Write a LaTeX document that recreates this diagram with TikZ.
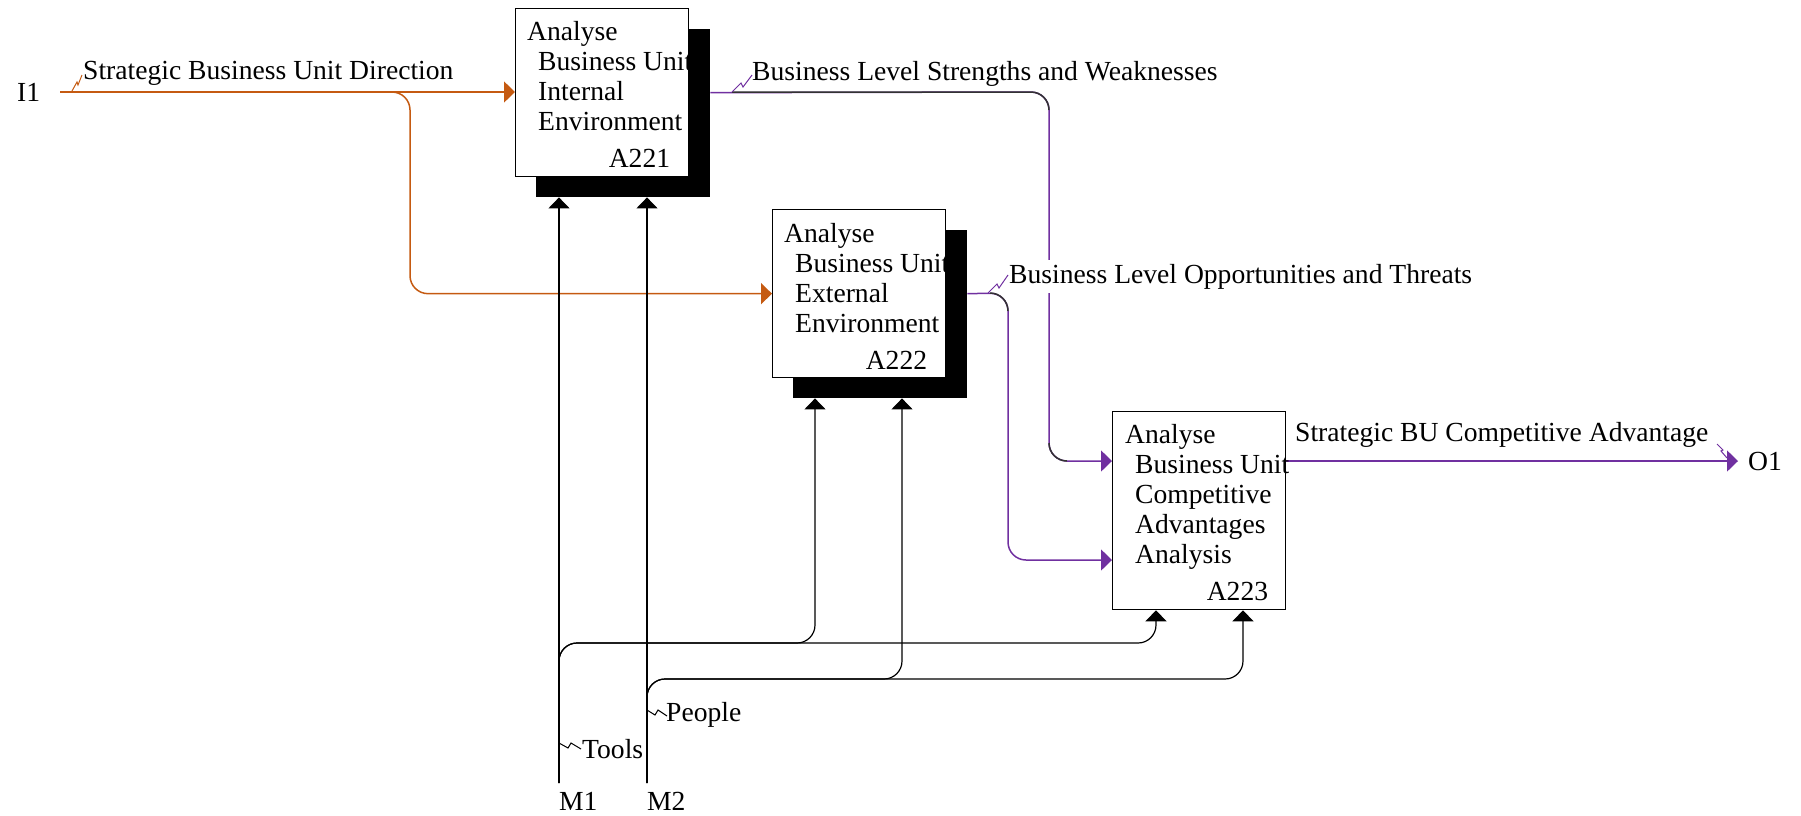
\documentclass[tikz,border=0pt]{standalone}
\usepackage{fontspec}
\setmainfont{Liberation Serif}
\usetikzlibrary{arrows.meta, positioning}
\definecolor{idefin}{HTML}{C55A11}
\definecolor{idefout}{HTML}{7030A0}

\begin{document}
\begin{tikzpicture}[x=1pt, y=-1pt,
  font=\fontsize{27.6}{30}\selectfont,
  box/.style={draw, fill=white, line width=1.3pt, anchor=north west, inner sep=0pt, minimum width=173pt, minimum height=168pt},
  shadowbox/.style={fill=black, anchor=north west, inner sep=0pt, minimum width=174pt, minimum height=168pt},
  boxtext/.style={anchor=north west, inner sep=0pt, align=left},
  boxnum/.style={anchor=base east, inner sep=0pt},
  lbl/.style={anchor=base west, inner sep=0pt},
  arr/.style={-{Triangle[length=11pt, width=21pt]}},
  inflow/.style={draw=idefin, line width=1.5pt, rounded corners=18pt},
  outflow/.style={draw=idefout, line width=1.5pt, rounded corners=18pt},
  mech/.style={draw=black, line width=1.2pt, rounded corners=18pt},
  joinline/.style={draw=black!80, line width=1.5pt, rounded corners=18pt},
  tag/.style={line width=1pt}]
\useasboundingbox (0,0) rectangle (1801,815);

% activity boxes
\node[shadowbox] (s221) at (536,29) {};
\node[box] (a221) at (515,8) {};
\node[shadowbox] (s222) at (793,230) {};
\node[box] (a222) at (772,209) {};
\node[box, minimum height=198pt] (a223) at (1112,411) {};

% ports
\coordinate (in223a) at ([shift={(0,50)}]a223.north west);
\coordinate (in223b) at ([shift={(0,149)}]a223.north west);
\coordinate (c222a) at ([xshift=43pt]a222.south west);
\coordinate (c222b) at ([xshift=130pt]a222.south west);
\coordinate (c223a) at ([xshift=44pt]a223.south west);
\coordinate (c223b) at ([xshift=131pt]a223.south west);

% input
\node[anchor=west, inner sep=0pt] (i1) at (17,92) {I1};
\coordinate[right=20pt of i1] (i1tail);
\coordinate (split1) at (410,92);
\draw[inflow, arr] (i1tail) -- (i1tail -| a221.west);
\draw[inflow, arr] (i1tail) -- (split1) |- (a222.west);

% outputs
\coordinate (drop1) at (1049,92);
\coordinate (drop2) at (1008,293);
\coordinate (o1tip) at (1738,461);
\draw[outflow, arr] (a221.east -| s221.east) -- (drop1) |- (in223a);
\draw[outflow, arr] (a222.east -| s222.east) -- (drop2) |- (in223b);
\draw[outflow, arr] (in223a -| a223.east) -- (o1tip);
\node[right=10pt of o1tip, inner sep=0pt] (o1) {O1};
\draw[joinline] (732,92) -| (1049,110);
\draw[joinline] (1049,443) |- (1067,461);
\draw[joinline] (990,293) -| (1008,311);

% mechanisms
\coordinate (m1top) at (559,783);
\coordinate (m2top) at (647,783);
\coordinate (bus1) at (559,643);
\coordinate (bus2) at (647,679);
\node[below=9pt of m1top, anchor=north west, inner sep=0pt] (m1) {M1};
\node[below=9pt of m2top, anchor=north west, inner sep=0pt] (m2) {M2};
\draw[mech, arr] (m1top) -- (m1top |- s221.south);
\draw[mech, arr] (m2top) -- (m2top |- s221.south);
\draw[mech, arr] (m1top) -- (bus1) -| (c222a |- s222.south);
\draw[mech, arr] (m1top) -- (bus1) -| (c223a);
\draw[mech, arr] (m2top) -- (bus2) -| (c222b |- s222.south);
\draw[mech, arr] (m2top) -- (bus2) -| (c223b);

% label tags
\draw[tag, idefin] (72,91) -- ++(5,-9) -- ++(1,3) -- ++(4,-10);
\draw[tag, idefout] (732,92) -- ++(9,-9) -- ++(2,4) -- ++(9,-12);
\draw[tag, idefout] (988,293) -- ++(9,-9) -- ++(2,4) -- ++(9,-13);
\draw[tag, idefout] (1717,444) -- ++(6,6) -- ++(-2,1) -- ++(6,7);
\draw[tag] (559,743) -- ++(9,5) -- ++(3,-5) -- ++(10,6);
\draw[tag] (647,710) -- ++(8,5) -- ++(3,-5) -- ++(9,6);

% arrow labels
\node[lbl] (l1) at (83,79) {Strategic Business Unit Direction};
\node[lbl] (l2) at (752,80) {Business Level Strengths and Weaknesses};
\node[lbl, fill=white, inner ysep=4pt] (l3) at (1009,283) {Business Level Opportunities and Threats};
\node[lbl] (l4) at (1295,441) {Strategic BU Competitive Advantage};
\node[lbl] (l5) at (582,758) {Tools};
\node[lbl] (l6) at (666,721) {People};

% box texts
\node[boxtext] (t221) at ([shift={(12,13)}]a221.north west) {Analyse\\\hspace*{11pt}Business Unit\\\hspace*{11pt}Internal\\\hspace*{11pt}Environment};
\node[boxtext] (t222) at ([shift={(12,14)}]a222.north west) {Analyse\\\hspace*{11pt}Business Unit\\\hspace*{11pt}External\\\hspace*{11pt}Environment};
\node[boxtext] (t223) at ([shift={(13,13)}]a223.north west) {Analyse\\\hspace*{10pt}Business Unit\\\hspace*{10pt}Competitive\\\hspace*{10pt}Advantages\\\hspace*{10pt}Analysis};
\node[boxnum] (n221) at ([shift={(-19,-10)}]a221.south east) {A221};
\node[boxnum] (n222) at ([shift={(-19,-9)}]a222.south east) {A222};
\node[boxnum] (n223) at ([shift={(-18,-10)}]a223.south east) {A223};
\end{tikzpicture}
\end{document}
